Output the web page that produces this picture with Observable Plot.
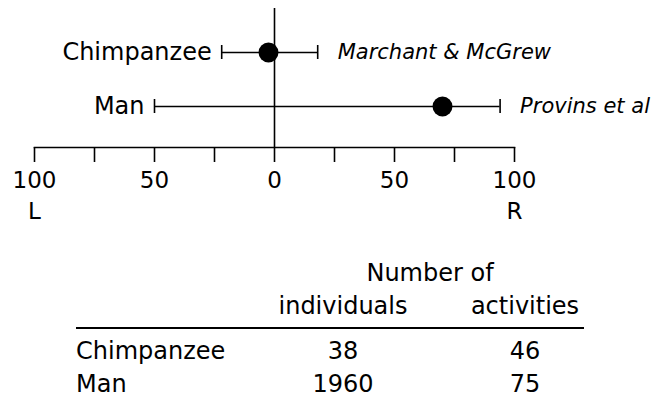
<!DOCTYPE html>
<html><head><meta charset="utf-8">
<script src="https://cdn.jsdelivr.net/npm/d3@7"></script>
<script src="https://cdn.jsdelivr.net/npm/@observablehq/plot@0.6"></script>
<style>
body{margin:0;background:#fff;}
#wrap{position:relative;width:657px;height:402px;font-family:"DejaVu Sans",sans-serif;color:#000;}
#wrap svg{display:block;}
#tbl{position:absolute;left:76px;top:257px;border-collapse:collapse;width:508px;table-layout:fixed;font-size:24px;line-height:33px;}
#tbl td{padding:0;height:33px;white-space:nowrap;}
#tbl .c{text-align:center;}
#tbl .c3{text-align:center;padding-left:56px;}
#tbl tr.hdr td{padding-bottom:4px;border-bottom:2px solid #000;}
#tbl tr.first td{padding-top:6px;}
</style></head><body><div id="wrap"></div>
<script>
const species = ["Chimpanzee", "Man"];
const means = [-2.5, 70];
const lows = [-22, -50];
const highs = [18, 94];
const sources = ["Marchant & McGrew", "Provins et al"];
const individuals = [38, 1960];
const activities = [46, 75];
const axisTicks = [-100, -75, -50, -25, 0, 25, 50, 75, 100];
const axisLabels = [-100, -50, 0, 50, 100];
const sidePositions = [-100, 100];
const sideLabels = ["L", "R"];
const tableTitle = "Number of";
const tableColumns = ["individuals", "activities"];

const FONT = '"DejaVu Sans",sans-serif';
const data = species.map((s, i) => ({species: s, mean: means[i], lo: lows[i], hi: highs[i], source: sources[i]}));

const chart = Plot.plot({
  width: 657, height: 230,
  marginLeft: 34, marginRight: 143, marginTop: 8, marginBottom: 83,
  x: {domain: [-100, 100]},
  y: {type: "band", domain: species, range: [25, 133], padding: 0, axis: null},
  style: {fontFamily: FONT, fontSize: "23px", color: "#000", background: "#fff"},
  marks: [
    Plot.frame({anchor: "bottom", stroke: "#000", strokeWidth: 1.6}),
    Plot.ruleX([0], {stroke: "#000", strokeWidth: 1.6}),
    Plot.axisX({ticks: axisTicks, tickSize: 15, tickPadding: 9, strokeWidth: 1.6, fontSize: 23,
      tickFormat: d => axisLabels.includes(d) ? String(Math.abs(d)) : ""}),
    Plot.axisX({ticks: sidePositions, tickSize: 0, tickPadding: 55, fontSize: 23,
      tickFormat: d => sideLabels[sidePositions.indexOf(d)]}),
    Plot.ruleY(data, {y: "species", x1: "lo", x2: "hi", stroke: "#000", strokeWidth: 1.6}),
    Plot.tickX(data, {x: "lo", y: "species", insetTop: 20, insetBottom: 20, stroke: "#000", strokeWidth: 1.6}),
    Plot.tickX(data, {x: "hi", y: "species", insetTop: 20, insetBottom: 20, stroke: "#000", strokeWidth: 1.6}),
    Plot.dot(data, {x: "mean", y: "species", r: 10, fill: "#000", stroke: null}),
    Plot.text(data, {x: "lo", y: "species", text: "species", textAnchor: "end", dx: -10, fontSize: 24, fill: "#000"}),
    Plot.text(data, {x: "hi", y: "species", text: "source", textAnchor: "start", dx: 20, fontSize: 21, fontStyle: "italic", fill: "#000"})
  ]
});
const wrap = document.getElementById("wrap");
wrap.appendChild(chart);

const tbl = document.createElement("table");
tbl.id = "tbl";
let html = '<colgroup><col style="width:200px"><col style="width:134px"><col style="width:174px"></colgroup>';
html += `<tr><td></td><td colspan="2" class="c">${tableTitle}</td></tr>`;
html += `<tr class="hdr"><td></td><td class="c">${tableColumns[0]}</td><td class="c3">${tableColumns[1]}</td></tr>`;
species.forEach((s, i) => {
  html += `<tr class="${i === 0 ? "first" : ""}"><td>${s}</td><td class="c">${individuals[i]}</td><td class="c3">${activities[i]}</td></tr>`;
});
tbl.innerHTML = html;
wrap.appendChild(tbl);
</script></body></html>
